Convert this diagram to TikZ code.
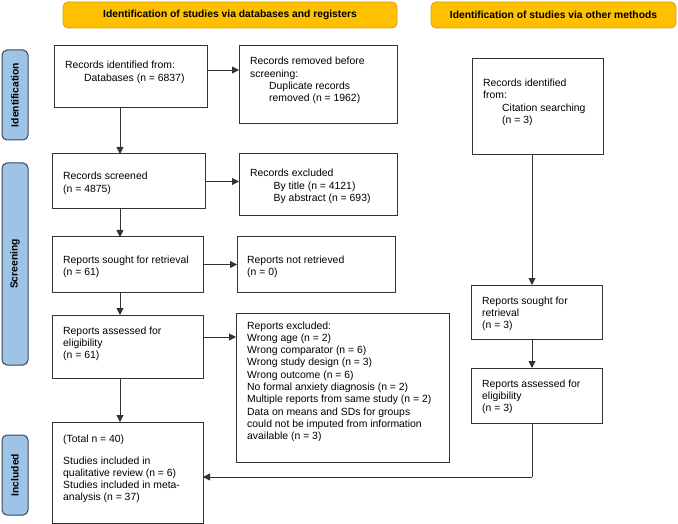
\documentclass[tikz,border=0pt]{standalone}
\usepackage{fontspec}
\setmainfont{Liberation Sans}
\usetikzlibrary{arrows.meta}
\definecolor{bannerfill}{HTML}{FFC000}
\definecolor{bannerdraw}{HTML}{D9A300}
\definecolor{sidefill}{HTML}{9DC3E6}
\definecolor{sidedraw}{HTML}{3A4654}
\definecolor{linec}{HTML}{333333}
\begin{document}
\begin{tikzpicture}[x=1pt,y=-1pt,
  box/.style={draw=linec, line width=1pt, anchor=north west, inner sep=0pt, outer sep=0pt},
  banner/.style={draw=bannerdraw, fill=bannerfill, line width=0.8pt, rounded corners=5pt, anchor=north west, inner sep=0pt, outer sep=0pt},
  sidebar/.style={draw=sidedraw, fill=sidefill, line width=1pt, rounded corners=5pt, anchor=north west, inner sep=0pt, outer sep=0pt},
  txt/.style={anchor=base west, align=left, inner sep=0pt, font=\fontsize{10.4}{12.3}\selectfont},
  btxt/.style={inner sep=0pt, font=\fontsize{10.3}{12}\selectfont\bfseries},
  arr/.style={draw=linec, line width=0.9pt, -{Triangle[length=7pt,width=7pt]}},
  plain/.style={draw=linec, line width=0.9pt}
]
\useasboundingbox (0,0) rectangle (678,524);

% banners
\node[banner, minimum width=334pt, minimum height=26pt] (ban1) at (63,2) {};
\node[btxt] (ban1t) at (ban1.center) {Identification of studies via databases and registers};
\node[banner, minimum width=245pt, minimum height=26pt] (ban2) at (431,2) {};
\node[btxt] (ban2t) at (ban2.center) {Identification of studies via other methods};

% side bars
\node[sidebar, minimum width=26pt, minimum height=90pt] (s1) at (2,50) {};
\node[btxt, rotate=90] (s1t) at (s1.center) {Identification};
\node[sidebar, minimum width=26pt, minimum height=202pt] (s2) at (2,163) {};
\node[btxt, rotate=90] (s2t) at (s2.center) {Screening};
\node[sidebar, minimum width=26pt, minimum height=80pt] (s3) at (2,435) {};
\node[btxt, rotate=90] (s3t) at (s3.center) {Included};

% boxes
\node[box, minimum width=153pt, minimum height=62pt] (A) at (54,46) {};
\node[box, minimum width=158pt, minimum height=78pt] (B) at (239,46) {};
\node[box, minimum width=153pt, minimum height=55pt] (C) at (52,154) {};
\node[box, minimum width=158pt, minimum height=62pt] (D) at (239,154) {};
\node[box, minimum width=151pt, minimum height=55pt] (E) at (52,237) {};
\node[box, minimum width=158pt, minimum height=55pt] (F) at (237,237) {};
\node[box, minimum width=151pt, minimum height=63pt] (G) at (52,315) {};
\node[box, minimum width=213pt, minimum height=149pt] (H) at (236,313) {};
\node[box, minimum width=151pt, minimum height=101pt] (I) at (52,422) {};
\node[box, minimum width=131pt, minimum height=96pt] (J) at (472,59) {};
\node[box, minimum width=131pt, minimum height=54pt] (K) at (471,285) {};
\node[box, minimum width=131pt, minimum height=55pt] (L) at (471,368) {};

% texts (anchored at the baseline of their last line)
\node[txt] (At) at (65,81.3) {Records identified from:\\\hspace*{19pt}Databases (n = 6837)};
\node[txt] (Bt) at (250,101.9) {Records removed before\\screening:\\\hspace*{19pt}Duplicate records\\\hspace*{19pt}removed (n = 1962)};
\node[txt] (Ct) at (63,192.3) {Records screened\\(n = 4875)};
\node[txt] (Dt) at (250,201.6) {Records excluded\\\hspace*{23.5pt}By title (n = 4121)\\\hspace*{23.5pt}By abstract (n = 693)};
\node[txt] (Et) at (63,275.3) {Reports sought for retrieval\\(n = 61)};
\node[txt] (Ft) at (247,275.3) {Reports not retrieved\\(n = 0)};
\node[txt] (Gt) at (63,358.6) {Reports assessed for\\eligibility\\(n = 61)};
\node[txt] (Ht) at (247,439.7) {Reports excluded:\\Wrong age (n = 2)\\Wrong comparator (n = 6)\\Wrong study design (n = 3)\\Wrong outcome (n = 6)\\No formal anxiety diagnosis (n = 2)\\Multiple reports from same study (n = 2)\\Data on means and SDs for groups\\could not be imputed from information\\available (n = 3)};
\node[txt] (It) at (63,500.9) {(Total n = 40)\\[9.7pt]Studies included in\\qualitative review (n = 6)\\Studies included in meta-\\analysis (n = 37)};
\node[txt] (Jt) at (483,123.4) {Records identified\\from:\\\hspace*{19pt}Citation searching\\\hspace*{19pt}(n = 3)};
\node[txt] (Kt) at (482,328.6) {Reports sought for\\retrieval\\(n = 3)};
\node[txt] (Lt) at (482,411.6) {Reports assessed for\\eligibility\\(n = 3)};

% spines
\coordinate (sp1) at (120,0);
\coordinate (sp2) at (532,0);
\coordinate (turn) at (532,477);

% connectors
\draw[arr] ([yshift=7pt]A.east) -- ([yshift=7pt]A.east -| B.west);
\draw[arr] (C.east) -- (C.east -| D.west);
\draw[arr] (E.east) -- (E.east -| F.west);
\draw[arr] ([yshift=9.5pt]G.east) -- ([yshift=9.5pt]G.east -| H.west);
\draw[arr] (A.south -| sp1) -- (C.north -| sp1);
\draw[arr] (C.south -| sp1) -- (E.north -| sp1);
\draw[arr] (E.south -| sp1) -- (G.north -| sp1);
\draw[arr] (G.south -| sp1) -- (I.north -| sp1);
\draw[arr] (J.south -| sp2) -- (K.north -| sp2);
\draw[arr] (K.south -| sp2) -- (L.north -| sp2);
\draw[plain] (L.south -| sp2) -- (turn);
\draw[arr] (turn) -- (turn -| I.east);
\end{tikzpicture}
\end{document}
